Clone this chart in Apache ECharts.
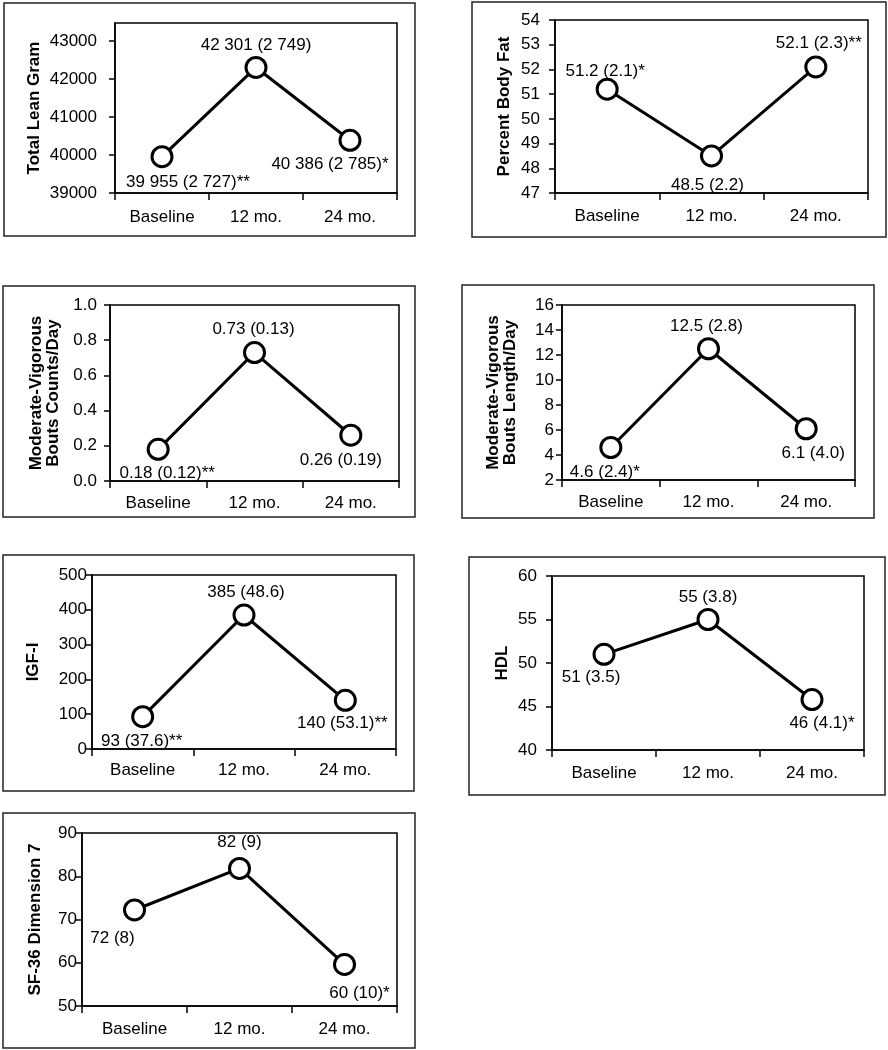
<!DOCTYPE html>
<html>
<head>
<meta charset="utf-8">
<style>
  html, body { margin: 0; padding: 0; background: #fff; }
  #chart { width: 888px; height: 1050px; }
</style>
<script src="https://cdn.jsdelivr.net/npm/echarts@6/dist/echarts.min.js"></script>
</head>
<body>
<div id="chart"></div>
<script>
// ---------- data ----------
const categories = ['Baseline', '12 mo.', '24 mo.'];

const leanGram = [39955, 42301, 40386];
const leanGramLabels = ['39 955 (2 727)**', '42 301 (2 749)', '40 386 (2 785)*'];
const leanGramTicks = [39000, 40000, 41000, 42000, 43000];

const bodyFat = [51.2, 48.5, 52.1];
const bodyFatLabels = ['51.2 (2.1)*', '48.5 (2.2)', '52.1 (2.3)**'];
const bodyFatTicks = [47, 48, 49, 50, 51, 52, 53, 54];

const mvCounts = [0.18, 0.73, 0.26];
const mvCountsLabels = ['0.18 (0.12)**', '0.73 (0.13)', '0.26 (0.19)'];
const mvCountsTicks = [0.0, 0.2, 0.4, 0.6, 0.8, 1.0];

const mvLength = [4.6, 12.5, 6.1];
const mvLengthLabels = ['4.6 (2.4)*', '12.5 (2.8)', '6.1 (4.0)'];
const mvLengthTicks = [2, 4, 6, 8, 10, 12, 14, 16];

const igf = [93, 385, 140];
const igfLabels = ['93 (37.6)**', '385 (48.6)', '140 (53.1)**'];
const igfTicks = [0, 100, 200, 300, 400, 500];

const hdl = [51, 55, 45.8];
const hdlLabels = ['51 (3.5)', '55 (3.8)', '46 (4.1)*'];
const hdlTicks = [40, 45, 50, 55, 60];

const sf36 = [72.2, 81.8, 59.6];
const sf36Labels = ['72 (8)', '82 (9)', '60 (10)*'];
const sf36Ticks = [50, 60, 70, 80, 90];

// ---------- layout / style ----------
const FONT = "'Liberation Sans', Arial, Helvetica, sans-serif";
const FS = 17;

const panels = [
  { name: 'Total Lean Gram', values: leanGram, labels: leanGramLabels, ticks: leanGramTicks, axisMax: 43470, dec: 0,
    grid: { left: 115, top: 23, width: 282, height: 170 }, box: [4, 3, 411, 233], nameGap: 72, lblMargin: 18, xMargin: 16,
    offsets: [[26, 26], [0, -22], [-20, 24]] },
  { name: 'Percent Body Fat', values: bodyFat, labels: bodyFatLabels, ticks: bodyFatTicks, dec: 0,
    grid: { left: 555, top: 20, width: 313, height: 173 }, box: [472, 2, 414, 235], nameGap: 42, lblMargin: 15, xMargin: 15,
    offsets: [[-2, -18], [-4, 29], [3, -24]] },
  { name: 'Moderate-Vigorous\nBouts Counts/Day', values: mvCounts, labels: mvCountsLabels, ticks: mvCountsTicks, dec: 1,
    grid: { left: 110, top: 305, width: 289, height: 176 }, box: [3, 286, 412, 231], nameGap: 48, lblMargin: 13, xMargin: 14,
    offsets: [[9, 24], [-1, -23], [-10, 25]] },
  { name: 'Moderate-Vigorous\nBouts Length/Day', values: mvLength, labels: mvLengthLabels, ticks: mvLengthTicks, dec: 0,
    grid: { left: 562, top: 305, width: 293, height: 175 }, box: [462, 285, 412, 233], nameGap: 43, lblMargin: 8, xMargin: 14,
    offsets: [[-6, 25], [-2, -22], [7, 25]] },
  { name: 'IGF-I', values: igf, labels: igfLabels, ticks: igfTicks, dec: 0,
    grid: { left: 92, top: 575, width: 304, height: 174 }, box: [3, 555, 411, 236], nameGap: 50, lblMargin: 5, xMargin: 13,
    offsets: [[-1, 25], [2, -23], [-3, 23]] },
  { name: 'HDL', values: hdl, labels: hdlLabels, ticks: hdlTicks, dec: 0,
    grid: { left: 552, top: 576, width: 312, height: 174 }, box: [469, 557, 416, 238], nameGap: 41, lblMargin: 15, xMargin: 15,
    offsets: [[-13, 23], [0, -22], [10, 24]] },
  { name: 'SF-36 Dimension 7', values: sf36, labels: sf36Labels, ticks: sf36Ticks, dec: 0,
    grid: { left: 82, top: 833, width: 315, height: 173 }, box: [3, 813, 412, 235], nameGap: 38, lblMargin: 5, xMargin: 15,
    offsets: [[-22, 28], [0, -26], [15, 29]] }
];

const grids = [], xAxes = [], yAxes = [], series = [], graphics = [];

panels.forEach((p, i) => {
  grids.push(Object.assign({ show: true, borderColor: '#000', borderWidth: 1.5, backgroundColor: 'transparent' }, p.grid));

  xAxes.push({
    type: 'category', gridIndex: i, data: categories, boundaryGap: true,
    axisLine: { show: true, lineStyle: { color: '#000', width: 1.5 } },
    axisTick: { show: true, length: 7, lineStyle: { color: '#000', width: 1.5 } },
    axisLabel: { color: '#000', fontSize: FS, fontFamily: FONT, margin: p.xMargin },
    splitLine: { show: false }
  });

  const tmin = p.ticks[0], tmax = p.ticks[p.ticks.length - 1];
  const y = {
    type: 'value', gridIndex: i,
    min: tmin, max: p.axisMax !== undefined ? p.axisMax : tmax,
    interval: p.ticks[1] - p.ticks[0],
    name: p.name, nameLocation: 'middle', nameGap: p.nameGap, nameRotate: 90,
    nameTextStyle: { color: '#000', fontSize: FS, fontWeight: 'bold', fontFamily: FONT, lineHeight: 17, align: 'center' },
    axisLine: { show: true, lineStyle: { color: '#000', width: 1.5 } },
    axisTick: { show: true, length: 6, lineStyle: { color: '#000', width: 1.5 } },
    axisLabel: { color: '#000', fontSize: FS, fontFamily: FONT, margin: p.lblMargin,
      formatter: v => Number(v).toFixed(p.dec) },
    splitLine: { show: false }
  };
  if (p.axisMax !== undefined) {
    y.axisLabel.customValues = p.ticks;
    y.axisTick.customValues = p.ticks;
  }
  yAxes.push(y);

  series.push({
    type: 'line', xAxisIndex: i, yAxisIndex: i,
    data: p.values.map((v, k) => ({
      value: v,
      label: { formatter: p.labels[k], offset: p.offsets[k] }
    })),
    symbol: 'circle', symbolSize: 20,
    lineStyle: { color: '#000', width: 3 },
    itemStyle: { color: '#fff', borderColor: '#000', borderWidth: 3 },
    label: { show: true, position: 'inside', color: '#000', fontSize: FS, fontFamily: FONT },
    emphasis: { disabled: true },
    silent: true, animation: false, z: 3
  });

  graphics.push({
    type: 'rect', shape: { x: p.box[0], y: p.box[1], width: p.box[2], height: p.box[3] },
    style: { fill: 'none', stroke: '#222', lineWidth: 1.5 }, silent: true, z: 0
  });
});

const chart = echarts.init(document.getElementById('chart'), null, { renderer: 'canvas' });
chart.setOption({
  backgroundColor: '#fff',
  animation: false,
  grid: grids,
  xAxis: xAxes,
  yAxis: yAxes,
  series: series,
  graphic: graphics
});
</script>
</body>
</html>
